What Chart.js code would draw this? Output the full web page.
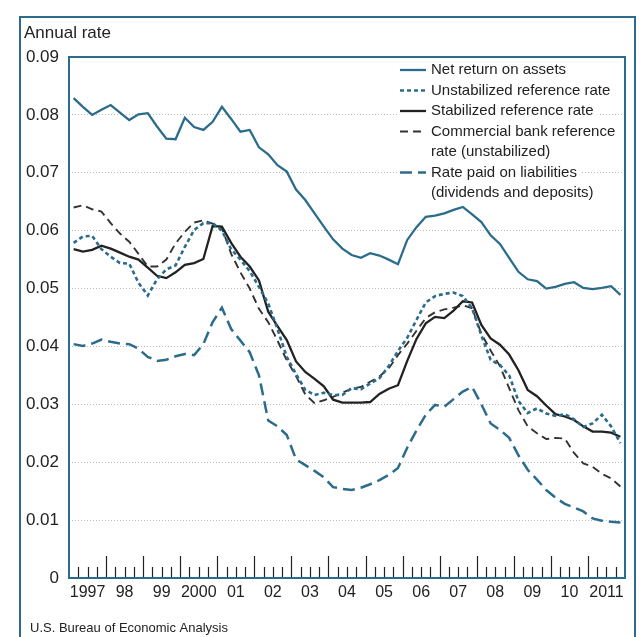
<!DOCTYPE html>
<html>
<head>
<meta charset="utf-8">
<script src="https://cdn.jsdelivr.net/npm/chart.js@4.4.1/dist/chart.umd.min.js"></script>
<style>
  html, body { margin: 0; padding: 0; background: #fff; }
  #wrap { position: relative; width: 641px; height: 637px; }
</style>
</head>
<body>
<div id="wrap"><canvas id="rates" width="641" height="637"></canvas></div>
<script>
// quarterly observations, 1997 Q1 - 2011 Q4
const quarters = [
  '1997 Q1', '1997 Q2', '1997 Q3', '1997 Q4', '1998 Q1', '1998 Q2', '1998 Q3', '1998 Q4',
  '1999 Q1', '1999 Q2', '1999 Q3', '1999 Q4', '2000 Q1', '2000 Q2', '2000 Q3', '2000 Q4',
  '2001 Q1', '2001 Q2', '2001 Q3', '2001 Q4', '2002 Q1', '2002 Q2', '2002 Q3', '2002 Q4',
  '2003 Q1', '2003 Q2', '2003 Q3', '2003 Q4', '2004 Q1', '2004 Q2', '2004 Q3', '2004 Q4',
  '2005 Q1', '2005 Q2', '2005 Q3', '2005 Q4', '2006 Q1', '2006 Q2', '2006 Q3', '2006 Q4',
  '2007 Q1', '2007 Q2', '2007 Q3', '2007 Q4', '2008 Q1', '2008 Q2', '2008 Q3', '2008 Q4',
  '2009 Q1', '2009 Q2', '2009 Q3', '2009 Q4', '2010 Q1', '2010 Q2', '2010 Q3', '2010 Q4',
  '2011 Q1', '2011 Q2', '2011 Q3', '2011 Q4'
];

const yearLabels = ['1997', '98', '99', '2000', '01', '02', '03', '04', '05', '06', '07', '08', '09', '10', '2011'];
const yTickLabels = ['0', '0.01', '0.02', '0.03', '0.04', '0.05', '0.06', '0.07', '0.08', '0.09'];

const netReturn = [
  0.0829, 0.0814, 0.0800, 0.0809, 0.0817, 0.0804, 0.0791, 0.0801,
  0.0803, 0.0780, 0.0759, 0.0758, 0.0795, 0.0779, 0.0774, 0.0788,
  0.0814, 0.0793, 0.0771, 0.0774, 0.0744, 0.0732, 0.0713, 0.0702,
  0.0671, 0.0653, 0.0630, 0.0607, 0.0585, 0.0569, 0.0558, 0.0553,
  0.0561, 0.0557, 0.0550, 0.0542, 0.0584, 0.0606, 0.0624, 0.0626,
  0.0630, 0.0636, 0.0641, 0.0628, 0.0615, 0.0592, 0.0577, 0.0553,
  0.0529, 0.0516, 0.0513, 0.0500, 0.0503, 0.0508, 0.0511, 0.0501,
  0.0499, 0.0501, 0.0504, 0.0489
];
const unstabilized = [
  0.0579, 0.0590, 0.0591, 0.0568, 0.0555, 0.0544, 0.0543, 0.0510,
  0.0488, 0.0516, 0.0533, 0.0540, 0.0572, 0.0601, 0.0613, 0.0613,
  0.0600, 0.0568, 0.0550, 0.0530, 0.0503, 0.0474, 0.0430, 0.0382,
  0.0352, 0.0325, 0.0316, 0.0320, 0.0316, 0.0316, 0.0328, 0.0326,
  0.0336, 0.0345, 0.0366, 0.0392, 0.0415, 0.0446, 0.0476, 0.0487,
  0.0491, 0.0493, 0.0487, 0.0466, 0.0419, 0.0377, 0.0368, 0.0350,
  0.0306, 0.0285, 0.0293, 0.0284, 0.0280, 0.0283, 0.0274, 0.0261,
  0.0267, 0.0282, 0.0262, 0.0233
];
const stabilized = [
  0.0568, 0.0564, 0.0567, 0.0574, 0.0569, 0.0562, 0.0555, 0.0550,
  0.0536, 0.0522, 0.0518, 0.0528, 0.0541, 0.0544, 0.0551, 0.0608,
  0.0607, 0.0579, 0.0555, 0.0538, 0.0514, 0.0460, 0.0435, 0.0411,
  0.0374, 0.0356, 0.0344, 0.0331, 0.0308, 0.0303, 0.0303, 0.0303,
  0.0304, 0.0318, 0.0327, 0.0333, 0.0375, 0.0413, 0.0440, 0.0451,
  0.0449, 0.0462, 0.0478, 0.0476, 0.0437, 0.0414, 0.0403, 0.0386,
  0.0359, 0.0325, 0.0314, 0.0298, 0.0283, 0.0279, 0.0273, 0.0262,
  0.0253, 0.0253, 0.0251, 0.0244
];
const commercialBank = [
  0.0640, 0.0644, 0.0637, 0.0633, 0.0613, 0.0595, 0.0581, 0.0560,
  0.0538, 0.0538, 0.0550, 0.0578, 0.0598, 0.0614, 0.0618, 0.0612,
  0.0605, 0.0560, 0.0528, 0.0500, 0.0465, 0.0442, 0.0410, 0.0376,
  0.0349, 0.0317, 0.0302, 0.0307, 0.0313, 0.0320, 0.0327, 0.0330,
  0.0339, 0.0348, 0.0362, 0.0385, 0.0405, 0.0427, 0.0449, 0.0459,
  0.0464, 0.0467, 0.0471, 0.0466, 0.0422, 0.0393, 0.0366, 0.0328,
  0.0290, 0.0262, 0.0250, 0.0240, 0.0242, 0.0241, 0.0216, 0.0198,
  0.0192, 0.0180, 0.0172, 0.0158
];
const ratePaid = [
  0.0404, 0.0401, 0.0405, 0.0412, 0.0408, 0.0405, 0.0404, 0.0396,
  0.0382, 0.0375, 0.0377, 0.0383, 0.0387, 0.0385, 0.0404, 0.0442,
  0.0467, 0.0430, 0.0410, 0.0390, 0.0350, 0.0272, 0.0262, 0.0247,
  0.0205, 0.0195, 0.0185, 0.0174, 0.0157, 0.0154, 0.0152, 0.0156,
  0.0162, 0.0169, 0.0178, 0.0190, 0.0225, 0.0255, 0.0282, 0.0299,
  0.0296, 0.0309, 0.0322, 0.0330, 0.0300, 0.0267, 0.0256, 0.0242,
  0.0212, 0.0187, 0.0170, 0.0152, 0.0139, 0.0128, 0.0122, 0.0115,
  0.0103, 0.0099, 0.0097, 0.0096
];

const blue = '#2b6c8c';
const ink = '#222';
const fontFamily = "'Liberation Sans', Arial, Helvetica, sans-serif";

// quarter index on a linear x axis
function points(values) {
  return values.map((v, i) => ({ x: i, y: v }));
}

// frame, inner quarter ticks, legend, header and source
const decor = {
  id: 'decor',
  beforeDatasetsDraw(chart) {
    const { ctx, chartArea: a, scales: { x } } = chart;
    ctx.save();
    ctx.strokeStyle = '#222';
    ctx.lineWidth = 1.2;
    for (let i = 1; i < quarters.length; i++) {
      const px = Math.round(x.getPixelForValue(i - 0.5)) + 0.5;
      const len = i % 4 === 0 ? 22 : 11;
      ctx.beginPath();
      ctx.moveTo(px, a.bottom);
      ctx.lineTo(px, a.bottom - len);
      ctx.stroke();
    }
    ctx.restore();
  },
  afterDraw(chart) {
    const { ctx, chartArea: a } = chart;
    ctx.save();

    // plot box and outer box
    ctx.strokeStyle = blue;
    ctx.lineWidth = 2;
    ctx.strokeRect(a.left, a.top, a.right - a.left, a.bottom - a.top);
    ctx.strokeRect(20, 17, 615, 660);

    // header and source
    ctx.fillStyle = ink;
    ctx.textBaseline = 'alphabetic';
    ctx.font = '17px ' + fontFamily;
    ctx.fillText('Annual rate', 24, 38);
    ctx.font = '13px ' + fontFamily;
    ctx.fillText('U.S. Bureau of Economic Analysis', 30, 632);

    // legend
    const lx = 400, ly = 70, rowH = 20.5;
    ctx.font = '15px ' + fontFamily;
    ctx.textBaseline = 'middle';
    let row = 0;
    chart.data.datasets.forEach(ds => {
      const lines = ds.label.split('\n');
      const y = ly + row * rowH;
      ctx.fillStyle = '#fff';
      lines.forEach((t, k) => {
        const w = ctx.measureText(t).width;
        ctx.fillRect(lx - 2, y + k * rowH - 9, 33 + w + 4, 18);
      });
      ctx.strokeStyle = ds.borderColor;
      ctx.lineWidth = ds.borderWidth;
      ctx.setLineDash(ds.borderDash || []);
      ctx.beginPath();
      ctx.moveTo(lx, y);
      ctx.lineTo(lx + 26, y);
      ctx.stroke();
      ctx.setLineDash([]);
      ctx.fillStyle = ink;
      lines.forEach((t, k) => ctx.fillText(t, lx + 31, y + k * rowH));
      row += lines.length;
    });
    ctx.restore();
  }
};

const ctx = document.getElementById('rates').getContext('2d');
new Chart(ctx, {
  type: 'line',
  data: {
    datasets: [
      { label: 'Net return on assets', data: points(netReturn), borderColor: blue, borderWidth: 2.3 },
      { label: 'Unstabilized reference rate', data: points(unstabilized), borderColor: blue, borderWidth: 2.6, borderDash: [4, 3] },
      { label: 'Stabilized reference rate', data: points(stabilized), borderColor: ink, borderWidth: 2.3 },
      { label: 'Commercial bank reference\nrate (unstabilized)', data: points(commercialBank), borderColor: '#333', borderWidth: 1.9, borderDash: [8, 5] },
      { label: 'Rate paid on liabilities\n(dividends and deposits)', data: points(ratePaid), borderColor: blue, borderWidth: 2.5, borderDash: [12, 6] }
    ]
  },
  options: {
    responsive: false,
    animation: false,
    events: [],
    elements: { point: { radius: 0 }, line: { tension: 0, fill: false } },
    layout: { padding: { left: 20, top: 57, right: 16, bottom: 29 } },
    plugins: { legend: { display: false }, tooltip: { enabled: false }, title: { display: false } },
    scales: {
      x: {
        type: 'linear',
        min: -0.5,
        max: quarters.length - 0.5,
        afterBuildTicks: scale => {
          scale.ticks = yearLabels.map((l, k) => ({ value: 4 * k + 1.5 }));
        },
        afterFit: scale => { scale.height = 30; },
        grid: { display: false, drawTicks: false },
        border: { display: false },
        ticks: {
          autoSkip: false,
          maxRotation: 0,
          padding: 5,
          color: ink,
          font: { family: fontFamily, size: 16 },
          callback: (value, index) => yearLabels[index]
        }
      },
      y: {
        min: 0,
        max: 0.09,
        afterFit: scale => { scale.width = 49; },
        grid: {
          drawTicks: false,
          lineWidth: 1,
          color: c => (c.index === 0 || c.index === yTickLabels.length - 1) ? 'rgba(0,0,0,0)' : '#bdbdbd'
        },
        border: { display: false, dash: [1, 2] },
        ticks: {
          stepSize: 0.01,
          padding: 10,
          color: ink,
          font: { family: fontFamily, size: 17 },
          callback: (value, index) => yTickLabels[index]
        }
      }
    }
  },
  plugins: [decor]
});
</script>
</body>
</html>
